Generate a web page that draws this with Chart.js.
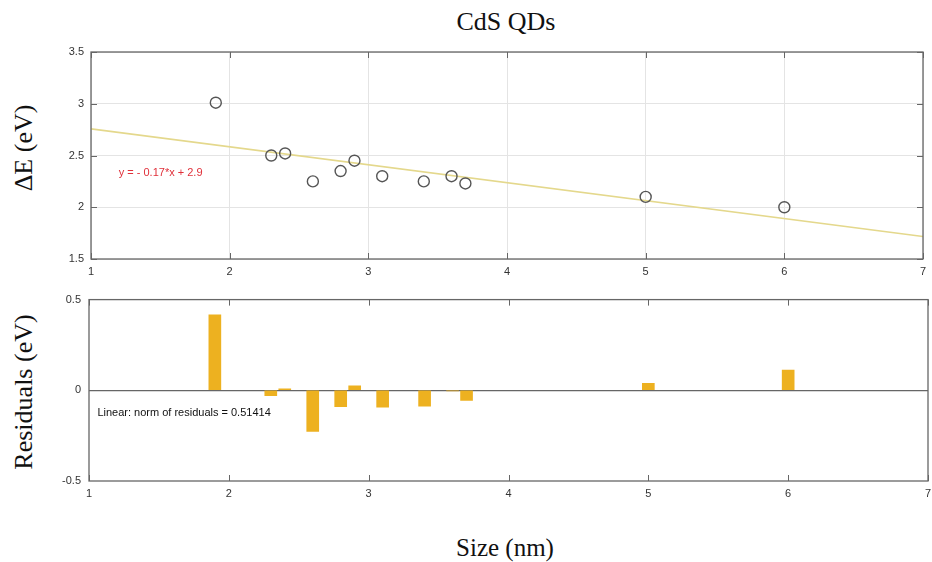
<!DOCTYPE html>
<html>
<head>
<meta charset="utf-8">
<script src="https://cdn.jsdelivr.net/npm/chart.js@4"></script>
<style>
  body { margin: 0; background: #fff; }
  #wrap { position: relative; width: 932px; height: 562px; overflow: hidden; }
  canvas { position: absolute; left: 0; }
  .lbl { position: absolute; font-family: 'Liberation Serif', 'Times New Roman', serif; color: #111; white-space: nowrap; }
</style>
</head>
<body>
<div id="wrap">
  <div class="lbl" id="title" style="font-size:26px; left:506px; top:22px; transform:translate(-50%,-50%);">CdS QDs</div>
  <div class="lbl" style="font-size:26px; left:24px; top:148px; transform:translate(-50%,-50%) rotate(-90deg);">ΔE (eV)</div>
  <div class="lbl" style="font-size:26px; left:24px; top:392px; transform:translate(-50%,-50%) rotate(-90deg);">Residuals (eV)</div>
  <div class="lbl" style="font-size:25px; left:505px; top:548px; transform:translate(-50%,-50%);">Size (nm)</div>
  <canvas id="fitChart" style="top:0px;" width="932" height="290"></canvas>
  <canvas id="residChart" style="top:285px;" width="932" height="225"></canvas>
</div>
<script>
// measured sizes (nm) and band gap shift (eV)
const sizes = [1.9, 2.3, 2.4, 2.6, 2.8, 2.9, 3.1, 3.4, 3.6, 3.7, 5.0, 6.0];
const deltaE = [3.01, 2.50, 2.52, 2.25, 2.35, 2.45, 2.30, 2.25, 2.30, 2.23, 2.10, 2.00];
const residuals = [0.416, -0.03, 0.008, -0.226, -0.09, 0.025, -0.093, -0.088, -0.004, -0.056, 0.038, 0.112];

// fitted line end points
const fitX = [1, 7];
const fitY = [2.757, 1.718];

const xTicks = [1, 2, 3, 4, 5, 6, 7];
const fitYTicks = [1.5, 2, 2.5, 3, 3.5];
const residYTicks = [-0.5, 0, 0.5];

const equationText = 'y = - 0.17*x + 2.9';
const normText = 'Linear: norm of residuals = 0.51414';

const tickFont = { family: "'Liberation Sans', Arial, sans-serif", size: 11 };
const axisColor = '#666';

// box + inward ticks like matlab
const boxPlugin = {
    id: 'box',
    afterDraw(chart, args, opts) {
        const ctx = chart.ctx;
        const a = chart.chartArea;
        const xs = chart.scales.x, ys = chart.scales.y;
        ctx.save();
        ctx.strokeStyle = axisColor;
        ctx.lineWidth = 1.3;
        ctx.strokeRect(a.left, a.top, a.right - a.left, a.bottom - a.top);
        ctx.lineWidth = 1;
        const len = 6;
        xs.ticks.forEach(function(t) {
            const px = Math.round(xs.getPixelForValue(t.value)) + 0.5;
            ctx.beginPath();
            ctx.moveTo(px, a.bottom); ctx.lineTo(px, a.bottom - len);
            ctx.moveTo(px, a.top); ctx.lineTo(px, a.top + len);
            ctx.stroke();
        });
        if (opts.yTicks) {
            ys.ticks.forEach(function(t) {
                const py = Math.round(ys.getPixelForValue(t.value)) + 0.5;
                ctx.beginPath();
                ctx.moveTo(a.left, py); ctx.lineTo(a.left + len, py);
                ctx.moveTo(a.right, py); ctx.lineTo(a.right - len, py);
                ctx.stroke();
            });
        }
        if (opts.text) {
            ctx.font = "11px 'Liberation Sans', Arial, sans-serif";
            ctx.fillStyle = opts.textColor;
            ctx.textAlign = 'left';
            ctx.textBaseline = 'middle';
            ctx.fillText(opts.text, xs.getPixelForValue(opts.tx), ys.getPixelForValue(opts.ty));
        }
        ctx.restore();
    }
};

function plainLabel(v) { return String(v); }

function xScale(h) {
    return {
        type: 'linear',
        min: 1, max: 7,
        offset: false,
        afterBuildTicks: function(s) { s.ticks = xTicks.map(v => ({ value: v })); },
        afterFit: function(s) { s.height = h; s.paddingLeft = 0; s.paddingRight = 0; },
        grid: { display: false, drawTicks: false, offset: false },
        border: { display: false },
        ticks: { font: tickFont, color: '#333', padding: 6, maxRotation: 0, callback: plainLabel }
    };
}

// ===== top: data + linear fit =====
const fitCtx = document.getElementById('fitChart').getContext('2d');
new Chart(fitCtx, {
    type: 'scatter',
    data: {
        datasets: [{
            label: 'fit',
            type: 'line',
            data: fitX.map((x, i) => ({ x: x, y: fitY[i] })),
            borderColor: 'rgb(228, 216, 140)',
            borderWidth: 1.6,
            pointRadius: 0,
            order: 2
        }, {
            label: 'data',
            data: sizes.map((x, i) => ({ x: x, y: deltaE[i] })),
            pointRadius: 5.5,
            pointBackgroundColor: 'rgba(0,0,0,0)',
            pointBorderColor: '#555',
            pointBorderWidth: 1.4,
            order: 1
        }]
    },
    options: {
        responsive: false,
        animation: false,
        layout: { padding: { left: 0, right: 9, top: 52, bottom: 0 } },
        plugins: {
            legend: { display: false },
            tooltip: { enabled: false },
            box: { yTicks: true, text: equationText, textColor: '#e0303a', tx: 1.2, ty: 2.33 }
        },
        scales: {
            x: Object.assign(xScale(31), {
                grid: { display: true, color: '#e4e4e4', drawTicks: false, offset: false }
            }),
            y: {
                min: 1.5, max: 3.5,
                afterBuildTicks: function(s) { s.ticks = fitYTicks.map(v => ({ value: v })); },
                afterFit: function(s) { s.width = 91; },
                grid: { color: '#e4e4e4', drawTicks: false },
                border: { display: false },
                ticks: { font: tickFont, color: '#333', padding: 7, callback: plainLabel }
            }
        }
    },
    plugins: [boxPlugin]
});

// ===== bottom: residuals =====
const residCtx = document.getElementById('residChart').getContext('2d');
new Chart(residCtx, {
    type: 'bar',
    data: {
        datasets: [{
            label: 'residuals',
            data: sizes.map((x, i) => ({ x: x, y: residuals[i] })),
            backgroundColor: '#EDB120',
            borderWidth: 0,
            barThickness: 12
        }]
    },
    options: {
        responsive: false,
        animation: false,
        layout: { padding: { left: 0, right: 4, top: 13, bottom: 0 } },
        plugins: {
            legend: { display: false },
            tooltip: { enabled: false },
            box: { yTicks: false, text: normText, textColor: '#111', tx: 1.06, ty: -0.125 }
        },
        scales: {
            x: xScale(29),
            y: {
                min: -0.5, max: 0.5,
                afterBuildTicks: function(s) { s.ticks = residYTicks.map(v => ({ value: v })); },
                afterFit: function(s) { s.width = 89; },
                grid: {
                    drawTicks: false,
                    lineWidth: 1.2,
                    color: function(c) { return c.tick && c.tick.value === 0 ? axisColor : 'rgba(0,0,0,0)'; }
                },
                border: { display: false },
                ticks: { font: tickFont, color: '#333', padding: 8, callback: plainLabel }
            }
        }
    },
    plugins: [boxPlugin]
});
</script>
</body>
</html>
